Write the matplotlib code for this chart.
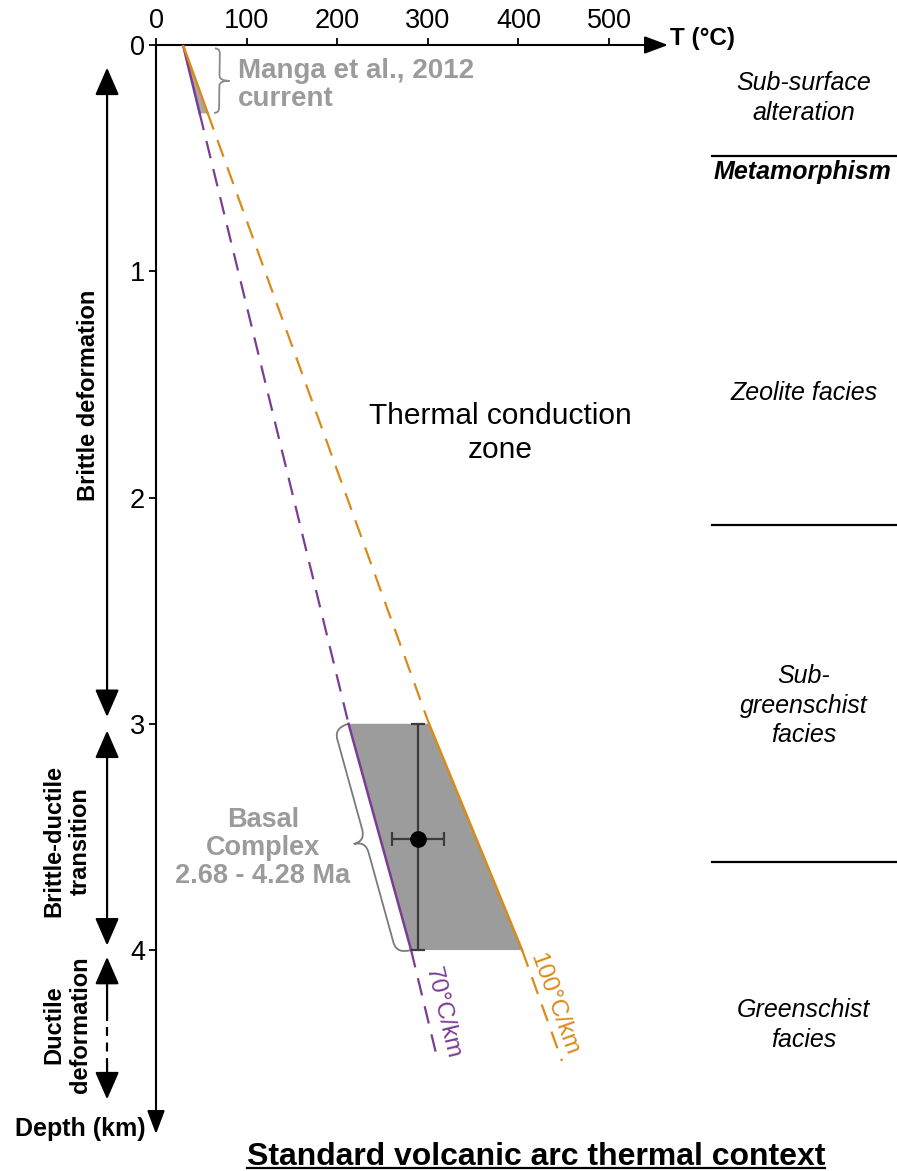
import numpy as np
import matplotlib
matplotlib.use("Agg")
import matplotlib.pyplot as plt
from matplotlib.patches import FancyArrowPatch, PathPatch
from matplotlib.path import Path
from matplotlib.lines import Line2D

plt.rcParams['font.family'] = ['Liberation Sans', 'DejaVu Sans']

# geotherms (T in degC at given depth in km)
depth_pts = [0.0, 3.0, 4.0, 4.49]
t_grad70 = [29.8, 212.5, 281.5, 311.0]
t_grad100 = [29.8, 301.3, 404.0, 448.0]
manga_bottom = 0.30
basal_top, basal_bottom = 3.0, 4.0

# Basal Complex sample
sample_t = 289.0
sample_t_err = 29.0
sample_depth = 3.51

xticks = [0, 100, 200, 300, 400, 500]
yticks = [0, 1, 2, 3, 4]

facies_names = ["Sub-surface\nalteration", "Zeolite facies",
                "Sub-\ngreenschist\nfacies", "Greenschist\nfacies"]
facies_depths = [0.235, 1.54, 2.92, 4.33]
facies_bounds = [0.49, 2.12, 3.61]

zone_names = ["Brittle deformation", "Brittle-ductile\ntransition", "Ductile\ndeformation"]
zone_ranges = [(0.10, 2.97), (3.03, 3.98), (4.03, 4.66)]
zone_label_depth = [1.55, 3.52, 4.33]

PURPLE = '#7b3d92'
ORANGE = '#d98b1a'
GREY_TXT = '#9b9b9b'

fig = plt.figure(figsize=(8.97, 11.71), dpi=100)
ax = fig.add_axes([156 / 897, 37 / 1171, 512 / 897, 1089 / 1171])
ax.set_xlim(0, 565)
ax.set_ylim(4.813, 0)
for s in ax.spines.values():
    s.set_visible(False)
ax.patch.set_visible(False)

ax.xaxis.tick_top()
ax.set_xticks(xticks)
ax.set_yticks(yticks)
ax.tick_params(direction='out', length=5, width=1.3, labelsize=19.5, pad=3,
               bottom=False, right=False)

# axis lines with arrows
arr_kw = dict(arrowstyle='-|>,head_length=0.8,head_width=0.3', color='k', lw=1.5,
              mutation_scale=18, shrinkA=0, shrinkB=0)
ax.annotate('', xy=(565, 0), xytext=(0, 0), arrowprops=arr_kw, annotation_clip=False)
ax.annotate('', xy=(0, 4.813), xytext=(0, 0), arrowprops=arr_kw, annotation_clip=False)
ax.text(567, -0.03, 'T (°C)', ha='left', va='center', fontsize=17.5, weight='bold')
ax.text(-12, 4.79, 'Depth (km)', ha='right', va='center', fontsize=18, weight='bold')


def t_at(temps, d):
    return np.interp(d, depth_pts, temps)


# Manga et al. current gradient (grey wedge)
dd = [0, manga_bottom]
ax.fill_betweenx(dd, t_at(t_grad70, dd), t_at(t_grad100, dd), color='#a8a8a8', lw=0, zorder=1)

# Basal Complex box
ax.fill([t_at(t_grad70, basal_top), t_at(t_grad100, basal_top),
         t_at(t_grad100, basal_bottom), t_at(t_grad70, basal_bottom)],
        [basal_top, basal_top, basal_bottom, basal_bottom], color='#9c9c9c', lw=0, zorder=1)

for temps, col in ((t_grad70, PURPLE), (t_grad100, ORANGE)):
    for d0, d1 in ((0, manga_bottom), (basal_top, basal_bottom)):
        ax.plot([t_at(temps, d0), t_at(temps, d1)], [d0, d1], color=col, lw=1.8, zorder=3)
    for d0, d1 in ((manga_bottom, basal_top), (basal_bottom, depth_pts[-1])):
        ax.plot([t_at(temps, d0), t_at(temps, d1)], [d0, d1], color=col, lw=1.6,
                ls=(0, (8, 5)), zorder=3, clip_on=False)

ax.errorbar(sample_t, sample_depth, xerr=sample_t_err,
            yerr=[[sample_depth - basal_top], [basal_bottom - sample_depth]],
            fmt='o', color='black', ms=11, ecolor='#3c3c3c', elinewidth=1.6,
            capsize=5, capthick=1.6, zorder=4)


def draw_brace(p0, p1, w1, w2, r, side, **kw):
    tr = ax.transData
    a = tr.transform(p0)
    b = tr.transform(p1)
    d = b - a
    L = np.hypot(d[0], d[1])
    u = d / L
    n = side * np.array([-u[1], u[0]])
    h = L / 2
    sw = [(0, 0), (0, w1), (r, w1), (h - r, w1), (h, w1), (h, w2),
          (h, w1), (h + r, w1), (L - r, w1), (L, w1), (L, 0)]
    codes = [Path.MOVETO, Path.CURVE3, Path.CURVE3, Path.LINETO, Path.CURVE3, Path.CURVE3,
             Path.CURVE3, Path.CURVE3, Path.LINETO, Path.CURVE3, Path.CURVE3]
    verts = [a + s * u + w * n for s, w in sw]
    path = tr.inverted().transform_path(Path(verts, codes))
    ax.add_patch(PathPatch(path, fill=False, transform=tr, clip_on=False, **kw))


draw_brace((65, 0.015), (64, manga_bottom), 5, 15, 5, 1, color='#8a8a8a', lw=1.3)
draw_brace((t_at(t_grad70, basal_top), basal_top), (t_at(t_grad70, basal_bottom), basal_bottom),
           15, 27, 12, -1, color='#7a7a7a', lw=1.3)

ax.text(90.5, 0.177, 'Manga et al., 2012\ncurrent', ha='left', va='center', fontsize=20,
        weight='bold', color=GREY_TXT, linespacing=1.1)
ax.text(118, 3.55, 'Basal\nComplex\n2.68 - 4.28 Ma', ha='center', va='center', fontsize=19.5,
        weight='bold', color=GREY_TXT, linespacing=1.1, multialignment='center')
ax.text(380, 1.715, 'Thermal conduction\nzone', ha='center', va='center', fontsize=21.5,
        linespacing=1.25)


def line_angle(temps):
    p = ax.transData.transform([(t_at(temps, basal_bottom), basal_bottom),
                                (temps[-1], depth_pts[-1])])
    return np.degrees(np.arctan2(p[1, 1] - p[0, 1], p[1, 0] - p[0, 0]))


ax.text(315.7, 4.28, '70°C/km', rotation=line_angle(t_grad70), rotation_mode='anchor',
        ha='center', va='center', color=PURPLE, fontsize=17.5)
ax.text(439, 4.24, '100°C/km', rotation=line_angle(t_grad100), rotation_mode='anchor',
        ha='center', va='center', color=ORANGE, fontsize=17.5)

# deformation regimes on the left
zx = -54
big = '<|-|>,head_length=0.85,head_width=0.37'
one = '-|>,head_length=0.85,head_width=0.37'
for (d0, d1), name, yl, i in zip(zone_ranges, zone_names, zone_label_depth, range(3)):
    if i < 2:
        ax.add_patch(FancyArrowPatch((zx, d0), (zx, d1), arrowstyle=big, mutation_scale=20,
                                     color='k', lw=1.6, shrinkA=0, shrinkB=0, clip_on=False))
    else:
        ax.add_patch(FancyArrowPatch((zx, 4.31), (zx, d0), arrowstyle=one, mutation_scale=20,
                                     color='k', lw=1.6, shrinkA=0, shrinkB=0, clip_on=False))
        ax.plot([zx, zx], [4.34, 4.50], color='k', lw=1.6, ls=(0, (4, 3)), clip_on=False)
        ax.add_patch(FancyArrowPatch((zx, 4.50), (zx, d1), arrowstyle=one, mutation_scale=20,
                                     color='k', lw=1.6, shrinkA=0, shrinkB=0, clip_on=False))
    xl = -75 if i == 0 else -98
    ax.text(xl, yl, name, rotation=90, ha='center', va='center', fontsize=17, weight='bold',
            multialignment='center', linespacing=1.2)

# facies column on the right
for name, d in zip(facies_names, facies_depths):
    ax.text(715, d, name, ha='center', va='center', fontsize=18, style='italic',
            linespacing=1.3)
for b in facies_bounds:
    ax.plot([613.7, 818], [b, b], color='k', lw=1.6, clip_on=False)
ax.text(713, 0.56, 'Metamorphism', ha='center', va='center', fontsize=18, style='italic',
        weight='bold')

title = fig.text(536 / 897, 6 / 1171, 'Standard volcanic arc thermal context', ha='center',
                 va='baseline', fontsize=23, weight='bold')
fig.canvas.draw()
bb = title.get_window_extent()
fig.add_artist(Line2D([bb.x0 / 897, bb.x1 / 897], [3.5 / 1171, 3.5 / 1171],
                      color='k', lw=1.6, transform=fig.transFigure))

fig.savefig('out.png', dpi=100)
